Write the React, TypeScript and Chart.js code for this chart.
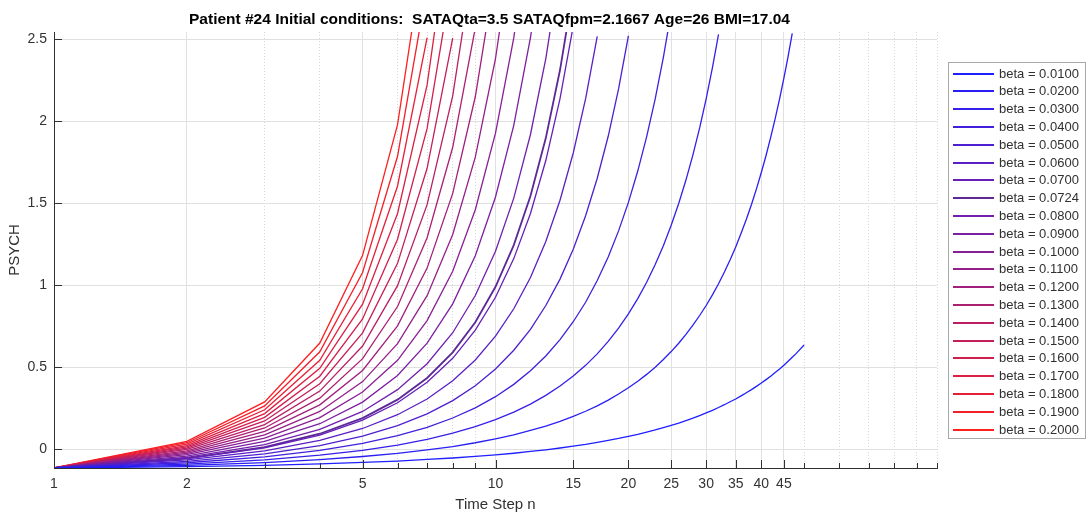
import React, { useEffect, useRef } from "react";
import { Chart, registerables } from "chart.js";

Chart.register(...registerables);

const FONT = '"Liberation Sans", Arial, Helvetica, sans-serif';

const titleText =
  "Patient #24 Initial conditions:  SATAQta=3.5 SATAQfpm=2.1667 Age=26 BMI=17.04";
const xAxisTitle = "Time Step n";
const yAxisTitle = "PSYCH";

const betaValues = [
  0.01, 0.02, 0.03, 0.04, 0.05, 0.06, 0.07, 0.0724, 0.08, 0.09, 0.1, 0.11, 0.12,
  0.13, 0.14, 0.15, 0.16, 0.17, 0.18, 0.19, 0.2,
];
const betaLabels = betaValues.map((b) => "beta = " + b.toFixed(4));

const xTickValues = [1, 2, 3, 4, 5, 6, 7, 8, 9, 10, 15, 20, 25, 30, 35, 40, 45, 50, 60, 70, 80, 90, 100];
const xTickLabels = [1, 2, 5, 10, 15, 20, 25, 30, 35, 40, 45];
const yTickValues = [0, 0.5, 1, 1.5, 2, 2.5];
const xMin = 1;
const xMax = 100;
const yMin = -0.114;
const yMax = 2.545;

// PSYCH value at time steps n = 1, 2, 3, ...
const psych_b0100 = [
  -0.114, -0.106, -0.098, -0.089, -0.08, -0.072, -0.062, -0.053, -0.043, -0.034,
  -0.024, -0.013, -0.003, 0.008, 0.019, 0.03, 0.042, 0.054, 0.066, 0.079,
  0.091, 0.105, 0.118, 0.132, 0.146, 0.16, 0.175, 0.19, 0.206, 0.222,
  0.238, 0.255, 0.272, 0.29, 0.307, 0.326, 0.345, 0.364, 0.384, 0.404,
  0.425, 0.446, 0.468, 0.49, 0.513, 0.537, 0.561, 0.585, 0.611, 0.636,
];
const psych_b0200 = [
  -0.114, -0.098, -0.081, -0.063, -0.044, -0.025, -0.004, 0.017, 0.04, 0.064,
  0.088, 0.115, 0.142, 0.171, 0.201, 0.232, 0.265, 0.3, 0.337, 0.375,
  0.415, 0.457, 0.501, 0.548, 0.596, 0.647, 0.701, 0.757, 0.816, 0.877,
  0.942, 1.01, 1.081, 1.156, 1.234, 1.317, 1.403, 1.493, 1.588, 1.688,
  1.792, 1.902, 2.017, 2.137, 2.264, 2.397, 2.536,
];
const psych_b0300 = [
  -0.114, -0.09, -0.064, -0.036, -0.006, 0.026, 0.061, 0.098, 0.138, 0.181,
  0.227, 0.276, 0.329, 0.386, 0.447, 0.512, 0.582, 0.658, 0.739, 0.826,
  0.919, 1.019, 1.127, 1.242, 1.366, 1.499, 1.642, 1.796, 1.96, 2.137,
  2.327, 2.53,
];
const psych_b0400 = [
  -0.114, -0.082, -0.046, -0.007, 0.036, 0.083, 0.134, 0.191, 0.253, 0.321,
  0.396, 0.479, 0.569, 0.669, 0.778, 0.897, 1.029, 1.173, 1.332, 1.506,
  1.697, 1.907, 2.137, 2.39, 2.668,
];
const psych_b0500 = [
  -0.114, -0.074, -0.028, 0.023, 0.08, 0.144, 0.216, 0.297, 0.388, 0.49,
  0.604, 0.732, 0.877, 1.038, 1.22, 1.424, 1.653, 1.909, 2.198, 2.521,
];
const psych_b0600 = [
  -0.114, -0.065, -0.01, 0.054, 0.127, 0.211, 0.307, 0.418, 0.545, 0.69,
  0.857, 1.048, 1.267, 1.519, 1.807, 2.138, 2.518,
];
const psych_b0700 = [
  -0.114, -0.057, 0.009, 0.087, 0.178, 0.284, 0.409, 0.555, 0.727, 0.927,
  1.163, 1.438, 1.761, 2.139, 2.582,
];
const psych_b0724 = [
  -0.114, -0.055, 0.013, 0.095, 0.19, 0.303, 0.435, 0.591, 0.775, 0.991,
  1.245, 1.545, 1.898, 2.313, 2.802,
];
const psych_b0800 = [
  -0.114, -0.049, 0.028, 0.121, 0.231, 0.364, 0.522, 0.711, 0.938, 1.208,
  1.532, 1.92, 2.383, 2.937,
];
const psych_b0900 = [
  -0.114, -0.041, 0.048, 0.156, 0.288, 0.45, 0.647, 0.887, 1.181, 1.539,
  1.976, 2.51, 3.162,
];
const psych_b1000 = [
  -0.114, -0.033, 0.068, 0.193, 0.349, 0.543, 0.785, 1.086, 1.461, 1.928,
  2.509, 3.232,
];
const psych_b1100 = [
  -0.114, -0.025, 0.088, 0.231, 0.413, 0.644, 0.937, 1.31, 1.782, 2.382, 3.144,
];
const psych_b1200 = [
  -0.114, -0.017, 0.109, 0.271, 0.481, 0.753, 1.105, 1.561, 2.15, 2.913,
];
const psych_b1300 = [-0.114, -0.009, 0.13, 0.312, 0.553, 0.871, 1.29, 1.842, 2.57];
const psych_b1400 = [-0.114, -0.001, 0.151, 0.355, 0.63, 0.998, 1.492, 2.156, 3.048];
const psych_b1500 = [-0.114, 0.007, 0.173, 0.4, 0.71, 1.134, 1.714, 2.507];
const psych_b1600 = [-0.114, 0.015, 0.195, 0.446, 0.795, 1.281, 1.957, 2.898];
const psych_b1700 = [-0.114, 0.023, 0.218, 0.494, 0.885, 1.438, 2.222, 3.332];
const psych_b1800 = [-0.114, 0.032, 0.241, 0.543, 0.979, 1.606, 2.511];
const psych_b1900 = [-0.114, 0.04, 0.265, 0.595, 1.078, 1.787, 2.825];
const psych_b2000 = [-0.114, 0.048, 0.289, 0.648, 1.183, 1.98, 3.167];

const psychSeries = [
  psych_b0100, psych_b0200, psych_b0300, psych_b0400, psych_b0500, psych_b0600,
  psych_b0700, psych_b0724, psych_b0800, psych_b0900, psych_b1000, psych_b1100,
  psych_b1200, psych_b1300, psych_b1400, psych_b1500, psych_b1600, psych_b1700,
  psych_b1800, psych_b1900, psych_b2000,
];

const CRITICAL_BETA = 0.0724;

function seriesColor(beta: number): string {
  if (beta === CRITICAL_BETA) return "rgb(92,40,150)";
  const t = (beta - 0.01) / 0.19;
  const w = 0.12; // slight lightening, like thin antialiased lines
  const r = 255 * t * (1 - w) + 255 * w;
  const g = 255 * w;
  const b = 255 * (1 - t) * (1 - w) + 255 * w;
  return `rgb(${Math.round(r)},${Math.round(g)},${Math.round(b)})`;
}

const titlePlugin = {
  id: "axesTitle",
  afterDraw(chart: any) {
    const { ctx, chartArea } = chart;
    ctx.save();
    ctx.font = `bold 15.5px ${FONT}`;
    ctx.fillStyle = "#000000";
    ctx.textAlign = "center";
    ctx.textBaseline = "middle";
    ctx.fillText(titleText, (chartArea.left + chartArea.right) / 2 - 6, 20);
    ctx.restore();
  },
};

const inwardTicks = {
  id: "inwardTicks",
  afterDraw(chart: any) {
    const { ctx, chartArea, scales } = chart;
    ctx.save();
    ctx.strokeStyle = "#303030";
    ctx.lineWidth = 1;
    ctx.beginPath();
    for (const v of xTickValues) {
      const px = Math.round(scales.x.getPixelForValue(v)) + 0.5;
      const len = xTickLabels.includes(v) ? 8 : 5;
      ctx.moveTo(px, chartArea.bottom);
      ctx.lineTo(px, chartArea.bottom - len);
    }
    for (const v of yTickValues) {
      const py = Math.round(scales.y.getPixelForValue(v)) + 0.5;
      ctx.moveTo(chartArea.left, py);
      ctx.lineTo(chartArea.left + 8, py);
    }
    ctx.stroke();
    ctx.restore();
  },
};

const boxLegend = {
  id: "boxLegend",
  afterDraw(chart: any) {
    const { ctx, chartArea } = chart;
    const x0 = Math.round(chartArea.right) + 11;
    const y0 = 62;
    const w = 137;
    const h = 376;
    ctx.save();
    ctx.fillStyle = "#ffffff";
    ctx.fillRect(x0, y0, w, h);
    ctx.strokeStyle = "#a8a8a8";
    ctx.lineWidth = 1;
    ctx.strokeRect(x0 + 0.5, y0 + 0.5, w, h);
    ctx.font = `13px ${FONT}`;
    ctx.textBaseline = "middle";
    ctx.textAlign = "left";
    chart.data.datasets.forEach((ds: any, i: number) => {
      const cy = Math.round(y0 + 11.5 + i * 17.8);
      ctx.strokeStyle = ds.borderColor;
      ctx.lineWidth = 2;
      ctx.beginPath();
      ctx.moveTo(x0 + 5, cy);
      ctx.lineTo(x0 + 46, cy);
      ctx.stroke();
      ctx.fillStyle = "#303030";
      ctx.fillText(ds.label, x0 + 51, cy);
    });
    ctx.restore();
  },
};

export default function App() {
  const canvasRef = useRef<HTMLCanvasElement | null>(null);

  useEffect(() => {
    document.body.style.margin = "0";
    const canvas = canvasRef.current;
    if (!canvas) return;
    Chart.defaults.font.family = FONT;

    const datasets = psychSeries.map((vals, i) => ({
      label: betaLabels[i],
      data: vals.map((y, k) => ({ x: k + 1, y })),
      borderColor: seriesColor(betaValues[i]),
      borderWidth: betaValues[i] === CRITICAL_BETA ? 1.8 : 1.3,
      pointRadius: 0,
      tension: 0,
      fill: false,
    }));

    const chart = new Chart(canvas, {
      type: "line",
      data: { datasets },
      plugins: [titlePlugin, inwardTicks, boxLegend],
      options: {
        animation: false,
        responsive: false,
        events: [],
        layout: { padding: { left: 0, right: 155, top: 32, bottom: 0 } },
        plugins: {
          legend: { display: false },
          tooltip: { enabled: false },
          title: { display: false },
        },
        scales: {
          x: {
            type: "logarithmic",
            min: xMin,
            max: xMax,
            afterBuildTicks: (s: any) => {
              s.ticks = xTickValues.map((v) => ({ value: v }));
            },
            afterFit: (s: any) => {
              s.height = 48;
            },
            ticks: {
              autoSkip: false,
              maxRotation: 0,
              minRotation: 0,
              padding: 8,
              color: "#333333",
              font: { family: FONT, size: 14 },
              callback: (v: any) => (xTickLabels.includes(Number(v)) ? String(v) : ""),
            },
            grid: {
              drawTicks: false,
              lineWidth: 1,
              color: (c: any) =>
                c.tick && xTickLabels.includes(c.tick.value) ? "#e0e0e0" : "#d8d8d8",
            },
            border: {
              display: true,
              color: "#303030",
              width: 1,
              dash: (c: any) =>
                c.tick && !xTickLabels.includes(c.tick.value) ? [1, 2] : [],
            },
            title: {
              display: true,
              text: xAxisTitle,
              color: "#303030",
              font: { family: FONT, size: 15 },
              padding: { top: 0, bottom: 2 },
            },
          },
          y: {
            type: "linear",
            min: yMin,
            max: yMax,
            afterBuildTicks: (s: any) => {
              s.ticks = yTickValues.map((v) => ({ value: v }));
            },
            afterFit: (s: any) => {
              s.width = 54;
            },
            ticks: {
              padding: 7,
              color: "#333333",
              font: { family: FONT, size: 14 },
              callback: (v: any) => String(v),
            },
            grid: { drawTicks: false, lineWidth: 1, color: "#e0e0e0" },
            border: { display: true, color: "#303030", width: 1 },
            title: {
              display: true,
              text: yAxisTitle,
              color: "#303030",
              font: { family: FONT, size: 15 },
              padding: { top: 6, bottom: 0 },
            },
          },
        },
      },
    } as any);

    return () => chart.destroy();
  }, []);

  return (
    <div style={{ width: 1092, height: 516 }}>
      <canvas ref={canvasRef} width={1092} height={516} style={{ display: "block" }} />
    </div>
  );
}
